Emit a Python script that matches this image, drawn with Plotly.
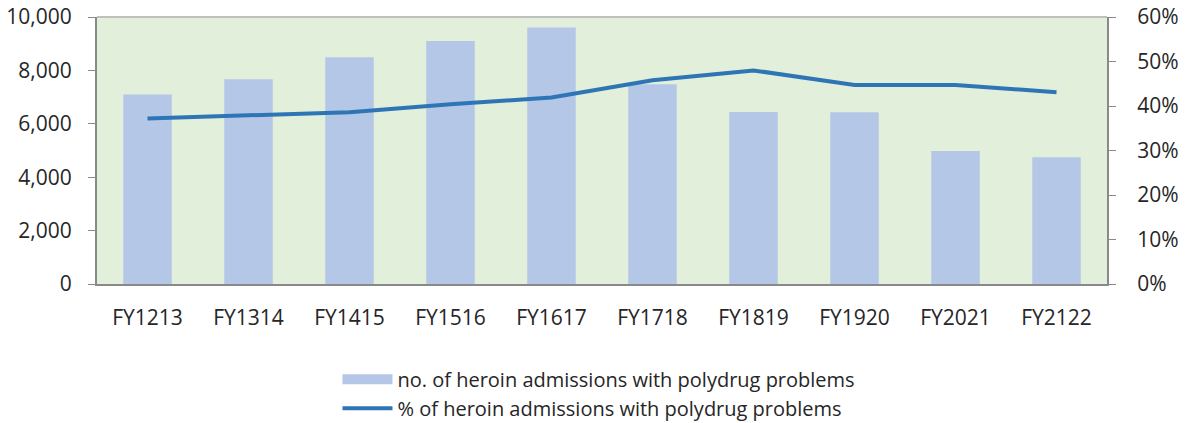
import plotly.graph_objects as go

years = ['FY1213', 'FY1314', 'FY1415', 'FY1516', 'FY1617',
         'FY1718', 'FY1819', 'FY1920', 'FY2021', 'FY2122']
admissions = [7100, 7670, 8490, 9100, 9610, 7480, 6440, 6430, 4980, 4750]
pct_polydrug = [0.372, 0.379, 0.386, 0.404, 0.419, 0.458, 0.480, 0.447, 0.447, 0.431]

bar_name = 'no. of heroin admissions with polydrug problems'
line_name = '% of heroin admissions with polydrug problems'

bar_color = '#B4C7E7'
line_color = '#2E75B6'
axis_color = '#898989'

font = dict(family='Open Sans, Noto Sans, sans-serif', size=21, color='#262626')

fig = go.Figure()
fig.add_trace(go.Bar(x=years, y=admissions, name=bar_name, showlegend=False,
	marker=dict(color=bar_color, line=dict(width=0))))
#legend-only entry so the bar swatch is a wide block like the original
fig.add_trace(go.Scatter(x=[None], y=[None], name=bar_name, mode='lines',
	line=dict(color=bar_color, width=14)))
fig.add_trace(go.Scatter(x=years, y=pct_polydrug, name=line_name, yaxis='y2',
	mode='lines', line=dict(color=line_color, width=4)))

fig.update_layout(
	width=1187, height=423,
	margin=dict(l=97, r=80, t=17, b=139, autoexpand=False),
	paper_bgcolor='white', plot_bgcolor='#E2EFDA',
	font=font, bargap=0.52,
	xaxis=dict(showgrid=False, showline=True, linecolor=axis_color, linewidth=2,
		ticks='outside', ticklen=14, tickcolor='rgba(0,0,0,0)',
		tickfont=dict(size=21), automargin=False),
	yaxis=dict(range=[0, 10000], dtick=2000, tickformat=',d', showgrid=False,
		showline=True, linecolor=axis_color, linewidth=2,
		ticks='outside', ticklen=7, tickcolor=axis_color, zeroline=False,
		ticklabelstandoff=12, automargin=False, ticklabeloverflow='allow'),
	yaxis2=dict(range=[0, 0.6], dtick=0.1, tickformat='.0%', overlaying='y',
		side='right', showgrid=False, showline=True, linecolor=axis_color,
		linewidth=2, ticks='outside', ticklen=7, tickcolor=axis_color,
		zeroline=False, ticklabelstandoff=17, automargin=False,
		ticklabeloverflow='allow'),
	legend=dict(orientation='v', x=0.497, xanchor='center', y=-0.284, yanchor='top',
		font=dict(size=20), itemwidth=50, tracegroupgap=0, bgcolor='rgba(0,0,0,0)'),
	shapes=[dict(type='line', xref='paper', yref='paper', x0=0, x1=1, y0=1, y1=1,
		line=dict(color='#BFBFBF', width=2))],
)

#drop the page's default body margin so the figure fills the window exactly
fig.write_html('out.html', config={'displayModeBar': False},
	post_script="document.body.style.margin='0';")
